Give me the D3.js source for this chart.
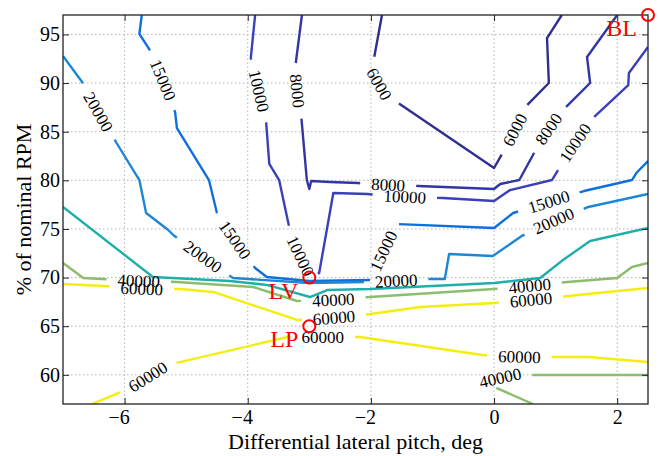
<!DOCTYPE html>
<html>
<head>
<meta charset="utf-8">
<script src="https://cdn.jsdelivr.net/npm/d3@7"></script>
<style>
  body { margin: 0; background: #fff; }
  svg text { font-family: "Liberation Serif", "Times New Roman", serif; }
</style>
</head>
<body>
<svg id="chart" width="660" height="456"></svg>
<script>
// Axis ticks
const xTicks = [-6, -4, -2, 0, 2];
const yTicks = [60, 65, 70, 75, 80, 85, 90, 95];

// Contour lines, [pitch deg, % RPM]; each label point sits on its line
const line6000 = [[-1.82,97],[-1.96,92.17],[-1.87,89.9],[-1.58,88.05],[0,81.27],[0.13,82.71],
  [0.34,85.17],[0.54,87.75],[0.89,90.01],[0.86,94.63],[1.10,97]];
const labels6000 = [[-1.87,89.9],[0.34,85.17]];

const line8000 = [[-3.12,97],[-3.22,92.06],[-3.20,89.19],[-3.13,86.51],[-3.04,80.03],[-3.00,79.11],
  [-2.97,79.93],[-2.66,79.83],[-2.21,79.72],[-1.72,79.52],[-1.23,79.42],[0,79.11],[0.10,79.62],
  [0.41,80.03],[0.65,82.81],[0.89,85.28],[1.17,87.54],[1.56,90.01],[1.51,92.68],[2.00,97]];
const labels8000 = [[-3.20,89.19],[-1.72,79.52],[0.89,85.28]];

const line10000 = [[-3.88,97],[-3.95,92.58],[-3.82,89.19],[-3.70,85.89],[-3.65,81.68],[-3.49,80.03],
  [-3.31,74.69],[-3.15,72.22],[-2.96,69.96],[-2.84,70.47],[-2.61,78.70],[-2.06,78.59],[-1.45,78.29],
  [-0.83,78.18],[0,77.87],[0.26,79.00],[0.94,80.03],[1.01,80.75],[1.32,83.84],[1.64,86.61],
  [2.18,89.80],[2.19,91.04],[2.5,93.71]];
const labels10000 = [[-3.82,89.19],[-3.15,72.22],[-1.45,78.29],[1.32,83.84]];

const line15000 = [[-5.72,97],[-5.76,95.05],[-5.60,93.50],[-5.38,90.32],[-5.18,87.03],[-5.15,85.38],
  [-4.63,80.03],[-4.50,76.64],[-4.21,73.86],[-3.88,70.98],[-3.69,70.06],[-3.00,69.65],[-2.01,69.75],
  [-1.79,72.73],[-1.58,75.51],[0,75.10],[0.31,76.64],[0.89,77.77],[1.46,78.90],[2.24,80.03],
  [2.31,80.75],[2.5,81.99]];
const labels15000 = [[-5.38,90.32],[-4.21,73.86],[-1.79,72.73],[0.89,77.77]];

const line20000 = [[-7.0,92.78],[-6.69,90.11],[-6.43,87.03],[-6.14,83.94],[-5.76,80.03],[-5.65,76.64],
  [-5.29,74.89],[-5.21,74.38],[-4.73,72.12],[-4.24,69.96],[-3.00,69.44],[-2.01,69.55],[-1.59,69.65],
  [-1.07,69.85],[-0.80,69.85],[-0.73,72.42],[-0.02,72.22],[0.45,74.28],[0.97,75.82],[1.53,77.26],
  [2.5,78.59]];
const labels20000 = [[-6.43,87.03],[-4.73,72.12],[-1.59,69.65],[0.97,75.82]];

const line30000 = [[-7.0,77.26],[-5.54,70.06],[-4.29,69.65],[-3.69,69.24],[-2.99,68.00],[-2.71,68.72],
  [-2.01,68.83],[0,69.44],[0.75,69.96],[1.12,71.81],[1.56,73.76],[2.5,75.10]];
const labels30000 = [];

const line40000a = [[-7.0,71.50],[-6.67,69.96],[-6.37,69.85],[-5.77,69.65],[-5.15,69.55],[-3.91,69.03],
  [-3.20,67.59],[-2.61,67.69],[-2.01,68.00],[0,68.83],[0.58,69.13],[1.19,69.55],[2.00,69.96],
  [2.24,71.09],[2.5,71.50]];
const line40000b = [[2.5,59.98],[0.52,59.98],[0.10,59.67],[-0.18,59.26],[0.63,57.0]];
const labels40000 = [[-5.77,69.65],[-2.61,67.69],[0.58,69.13],[0.10,59.67]];

const line60000a = [[-7.0,69.34],[-6.32,69.13],[-5.72,68.83],[-5.10,68.83],[-4.56,68.52],[-3.20,65.64],
  [-2.60,65.84],[-2.01,66.25],[-1.20,66.97],[0,67.39],[0.60,67.69],[1.20,68.11],[2.5,68.93]];
const line60000b = [[-6.53,57.0],[-5.86,58.75],[-5.62,59.78],[-5.31,61.01],[-3.35,63.89],[-2.78,63.89],
  [-2.18,63.89],[-0.19,62.04],[0.41,61.83],[1.02,61.83],[1.53,61.83],[2.5,61.32]];
const labels60000 = [[-5.72,68.83],[-2.60,65.84],[0.60,67.69],[-5.62,59.78],[-2.78,63.89],[0.41,61.83]];

// Operating points
const pointNames = ["LV", "LP", "BL"];
const pointX = [-3, -3, 2.5];
const pointY = [70, 65, 97];

const levels = [6000, 8000, 10000, 15000, 20000, 30000, 40000, 60000];
const levelColors = ["#302e8e", "#3236a2", "#3a40b8", "#0f70dd", "#1d86d5", "#1fafaa", "#8cbd6c", "#f4ee10"];

const contourTable = [
  { level: 6000,  lines: [line6000],  labels: labels6000 },
  { level: 8000,  lines: [line8000],  labels: labels8000 },
  { level: 10000, lines: [line10000], labels: labels10000 },
  { level: 15000, lines: [line15000], labels: labels15000 },
  { level: 20000, lines: [line20000], labels: labels20000 },
  { level: 30000, lines: [line30000], labels: labels30000 },
  { level: 40000, lines: [line40000a, line40000b], labels: labels40000 },
  { level: 60000, lines: [line60000a, line60000b], labels: labels60000 }
];

const W = 660, H = 456;
const margin = { left: 63, right: 12, top: 15, bottom: 52 };
const x = d3.scaleLinear().domain([-7, 2.5]).range([margin.left, W - margin.right]);
const y = d3.scaleLinear().domain([57, 97]).range([H - margin.bottom, margin.top]);
const color = d3.scaleOrdinal().domain(levels).range(levelColors);

const svg = d3.select("#chart");

// Dotted grid
const grid = svg.append("g").attr("stroke", "#b4b4b4").attr("stroke-width", 1)
  .attr("stroke-dasharray", "1.5,2.5");
grid.selectAll(".gx").data(xTicks).join("line")
  .attr("x1", d => x(d)).attr("x2", d => x(d))
  .attr("y1", y.range()[0]).attr("y2", y.range()[1]);
grid.selectAll(".gy").data(yTicks).join("line")
  .attr("y1", d => y(d)).attr("y2", d => y(d))
  .attr("x1", x.range()[0]).attr("x2", x.range()[1]);

svg.append("defs").append("clipPath").attr("id", "plot-clip")
  .append("rect")
  .attr("x", x.range()[0]).attr("y", y.range()[1])
  .attr("width", x.range()[1] - x.range()[0]).attr("height", y.range()[0] - y.range()[1]);

const plot = svg.append("g").attr("clip-path", "url(#plot-clip)");
const labelLayer = svg.append("g");
const fmt = d3.format("d");
const labelFont = 17;
const labelPad = 11;

// Arc-length helpers for a pixel polyline
function measure(pts) {
  const cum = [0];
  for (let i = 1; i < pts.length; i++) {
    cum.push(cum[i - 1] + Math.hypot(pts[i][0] - pts[i - 1][0], pts[i][1] - pts[i - 1][1]));
  }
  return cum;
}
function pointAt(pts, cum, s) {
  s = Math.max(0, Math.min(cum[cum.length - 1], s));
  for (let i = 1; i < pts.length; i++) {
    if (s <= cum[i] || i === pts.length - 1) {
      const seg = cum[i] - cum[i - 1] || 1;
      const t = (s - cum[i - 1]) / seg;
      return [pts[i - 1][0] + t * (pts[i][0] - pts[i - 1][0]), pts[i - 1][1] + t * (pts[i][1] - pts[i - 1][1])];
    }
  }
  return pts[pts.length - 1];
}
function project(pts, cum, p) {
  let best = { d: Infinity, s: 0 };
  for (let i = 1; i < pts.length; i++) {
    const ax = pts[i - 1][0], ay = pts[i - 1][1], bx = pts[i][0], by = pts[i][1];
    const dx = bx - ax, dy = by - ay, L2 = dx * dx + dy * dy || 1;
    let t = ((p[0] - ax) * dx + (p[1] - ay) * dy) / L2;
    t = Math.max(0, Math.min(1, t));
    const qx = ax + t * dx, qy = ay + t * dy;
    const d = Math.hypot(p[0] - qx, p[1] - qy);
    if (d < best.d) best = { d, s: cum[i - 1] + t * Math.sqrt(L2) };
  }
  return best;
}

contourTable.forEach(c => {
  const paths = c.lines.map(line => {
    const pts = line.map(d => [x(d[0]), y(d[1])]);
    return { pts, cum: measure(pts), gaps: [] };
  });
  c.labels.forEach(lp => {
    const p = [x(lp[0]), y(lp[1])];
    let bestPath = null, best = { d: Infinity };
    paths.forEach(pa => {
      const r = project(pa.pts, pa.cum, p);
      if (r.d < best.d) { best = r; bestPath = pa; }
    });
    const t = labelLayer.append("text")
      .attr("font-size", labelFont)
      .attr("fill", "#000")
      .attr("text-anchor", "middle")
      .attr("dy", "0.33em")
      .text(fmt(c.level));
    const w = t.node().getComputedTextLength();
    const half = w / 2 + labelPad;
    // text direction follows the chord across the label, kept upright
    const q1 = pointAt(bestPath.pts, bestPath.cum, best.s - w / 2);
    const q2 = pointAt(bestPath.pts, bestPath.cum, best.s + w / 2);
    let ang = Math.atan2(q2[1] - q1[1], q2[0] - q1[0]) * 180 / Math.PI;
    if (ang > 90) ang -= 180;
    if (ang < -90) ang += 180;
    const c0 = pointAt(bestPath.pts, bestPath.cum, best.s);
    t.attr("transform", `translate(${c0[0]},${c0[1]}) rotate(${ang})`);
    bestPath.gaps.push([best.s - half, best.s + half]);
  });
  paths.forEach(pa => {
    const total = pa.cum[pa.cum.length - 1];
    const gaps = pa.gaps.sort((a, b) => a[0] - b[0]);
    const dash = [];
    let pos = 0;
    gaps.forEach(g => {
      const a = Math.max(pos, g[0]), b = Math.min(total, g[1]);
      dash.push(Math.max(0, a - pos), Math.max(0, b - a));
      pos = b;
    });
    dash.push(Math.max(0, total - pos), total + 10);
    plot.append("path")
      .attr("d", d3.line()(pa.pts))
      .attr("fill", "none")
      .attr("stroke", color(c.level))
      .attr("stroke-width", 2.4)
      .attr("stroke-linejoin", "round")
      .attr("stroke-dasharray", gaps.length ? dash.join(",") : null);
  });
});

// Axes with inward ticks on all four sides
const axes = svg.append("g");
const tickLen = 6;
const tickFont = 20;
axes.append("g").attr("transform", `translate(0,${y.range()[0]})`)
  .call(d3.axisBottom(x).tickValues(xTicks).tickSize(-tickLen).tickPadding(6).tickFormat(d3.format("d")))
  .selectAll(".tick text").attr("dx", d => d < 0 ? "-0.3em" : null);
axes.append("g").attr("transform", `translate(0,${y.range()[1]})`)
  .call(d3.axisTop(x).tickValues(xTicks).tickSize(-tickLen).tickFormat(""));
axes.append("g").attr("transform", `translate(${x.range()[0]},0)`)
  .call(d3.axisLeft(y).tickValues(yTicks).tickSize(-tickLen).tickPadding(3));
axes.append("g").attr("transform", `translate(${x.range()[1]},0)`)
  .call(d3.axisRight(y).tickValues(yTicks).tickSize(-tickLen).tickFormat(""));
axes.selectAll(".domain").remove();
axes.selectAll(".tick line").attr("stroke", "#222").attr("stroke-width", 1);
axes.selectAll(".tick text").attr("font-size", tickFont).attr("fill", "#000")
  .attr("font-family", "Liberation Serif, serif");

svg.append("rect")
  .attr("x", x.range()[0]).attr("y", y.range()[1])
  .attr("width", x.range()[1] - x.range()[0]).attr("height", y.range()[0] - y.range()[1])
  .attr("fill", "none").attr("stroke", "#222").attr("stroke-width", 1.3);

// Operating point markers
const pts = pointNames.map((n, i) => ({ name: n, x: pointX[i], y: pointY[i] }));
const marks = svg.append("g");
marks.selectAll("circle").data(pts).join("circle")
  .attr("cx", d => x(d.x)).attr("cy", d => y(d.y)).attr("r", 6)
  .attr("fill", "none").attr("stroke", "#ff0000").attr("stroke-width", 2);
marks.selectAll("text").data(pts).join("text")
  .attr("x", d => x(d.x) - 11).attr("y", d => y(d.y) + 21)
  .attr("text-anchor", "end").attr("font-size", 24).attr("fill", "#ff0000")
  .text(d => d.name);

// Axis titles
svg.append("text")
  .attr("x", (x.range()[0] + x.range()[1]) / 2).attr("y", 449)
  .attr("text-anchor", "middle").attr("font-size", 22).attr("fill", "#000")
  .text("Differential lateral pitch, deg");
svg.append("text")
  .attr("transform", `translate(31,${(y.range()[0] + y.range()[1]) / 2}) rotate(-90)`)
  .attr("text-anchor", "middle").attr("font-size", 22).attr("fill", "#000")
  .text("% of nominal RPM");
</script>
</body>
</html>
